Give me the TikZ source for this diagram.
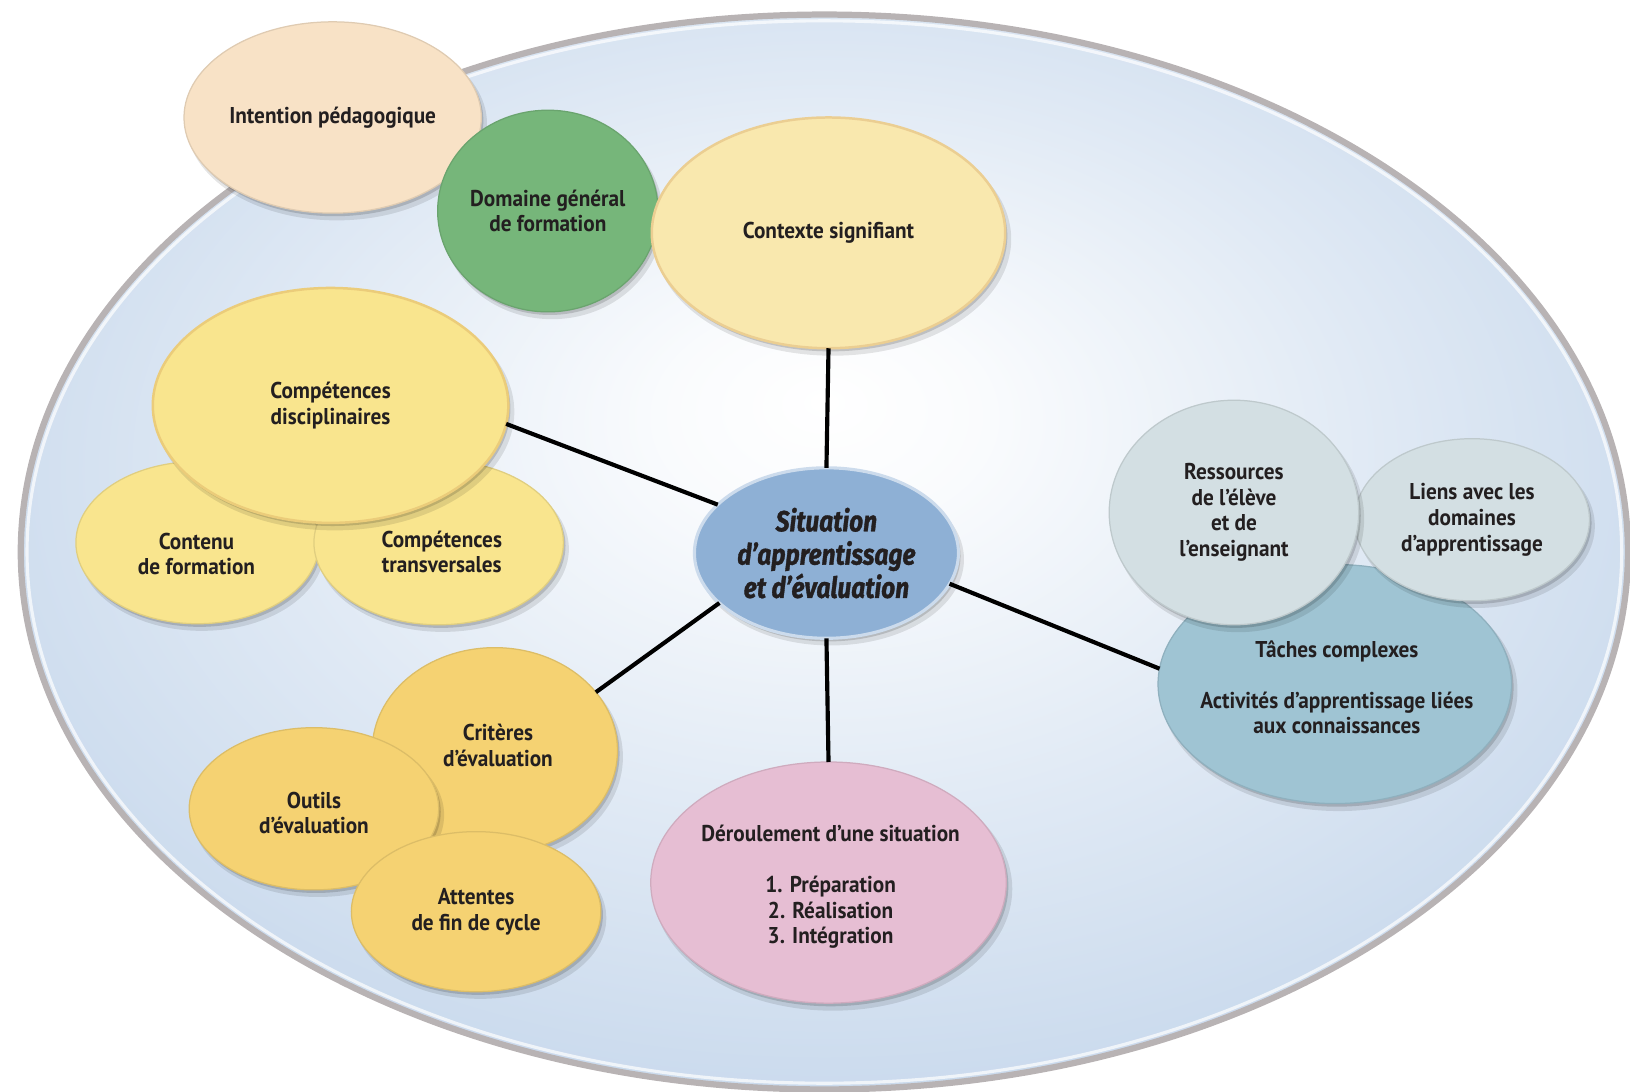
\documentclass[tikz,border=0pt]{standalone}
\usepackage{fontspec}
\setmainfont{PT Sans}
\newfontfamily\bubfont{PT Sans}[FakeStretch=0.93]
\newfontfamily\centfont{Fira Sans}[FakeStretch=0.84, FakeBold=1.2]
\usetikzlibrary{shapes.geometric,shadows}
\definecolor{bgblue}{HTML}{C7D8EC}
\definecolor{rimgrey}{HTML}{B8B3B4}
\definecolor{txt}{HTML}{231F20}
\definecolor{cpeach}{HTML}{F8E2C6}
\definecolor{cgreen}{HTML}{76B67A}
\definecolor{cctx}{HTML}{F9E8AE}
\definecolor{cyel}{HTML}{F9E58E}
\definecolor{corange}{HTML}{F5D272}
\definecolor{ccenter}{HTML}{8EB0D5}
\definecolor{cgrey}{HTML}{D3DFE3}
\definecolor{cteal}{HTML}{9FC4D3}
\definecolor{cpink}{HTML}{E6BED3}
\pgfdeclareradialshading{bgshade}{\pgfpoint{0bp}{7bp}}{color(0bp)=(white); color(5bp)=(white!90!bgblue); color(17bp)=(white!45!bgblue); color(30bp)=(bgblue); color(50bp)=(bgblue)}
\begin{document}
\begin{tikzpicture}[x=0.5pt,y=-0.5pt,
  bub/.style={ellipse, inner sep=0pt, outer sep=0pt, align=center, text=txt,
    font=\bubfont\bfseries\fontsize{11}{12.3}\selectfont,
    drop shadow={shadow xshift=2pt, shadow yshift=-3pt, shadow scale=1.01, opacity=0.1, fill=black},
    drop shadow={shadow xshift=1pt, shadow yshift=-1.5pt, opacity=0.15, fill=black}},
  lbl/.style={inner sep=0pt, align=center, text=txt, font=\bubfont\bfseries\fontsize{11}{12.3}\selectfont},
  sz/.style 2 args={minimum width=#1pt, minimum height=#2pt},
  fc/.style={fill=#1, draw=#1!90!black, line width=0.6pt},
  fr/.style={fill=#1, draw=#1!75!brown, line width=1.2pt},
  link/.style={line width=2pt, black}]
\useasboundingbox (0,0) rectangle (1568,1050);
% background ellipse
\path[shading=bgshade] (793,531) ellipse [x radius=775, y radius=519];
\draw[rimgrey, line width=3pt] (793,531) ellipse [x radius=773, y radius=517];
\draw[white, opacity=0.7, line width=1.5pt] (793,531) ellipse [x radius=767, y radius=511];
% bubbles
\node[bub, sz={143}{92}, fc=cpeach] (intent) at (320,113) {Intention pédagogique};
\node[bub, sz={106}{97}, fc=cgreen] (dom) at (527,203) {Domaine général\\de formation};
\node[bub, sz={170}{111}, fr=cctx] (ctx) at (797,224) {Contexte signifiant};
\node[bub, sz={117}{78}, fc=cyel] (contenu) at (190,522) {};
\node[lbl] (contenu-t) at (189,533) {Contenu\\de formation};
\node[bub, sz={120}{79}, fc=cyel] (transv) at (422,522) {};
\node[lbl] (transv-t) at (425,531) {Compétences\\transversales};
\node[bub, sz={171}{113}, fr=cyel] (disc) at (318,390) {Compétences\\disciplinaires};
\node[bub, sz={118}{99}, fc=corange] (crit) at (476,722) {};
\node[lbl] (crit-t) at (479,717) {Critères\\d’évaluation};
\node[bub, sz={120}{78}, fc=corange] (outils) at (302,778) {};
\node[lbl] (outils-t) at (302,782) {Outils\\d’évaluation};
\node[bub, sz={120}{77}, fc=corange] (att) at (458,877) {Attentes\\de fin de cycle};
\node[bub, sz={170}{115}, fc=cteal] (taches) at (1284,658) {};
\node[lbl] (taches-t) at (1286,661) {Tâches complexes\\[12.3pt]Activités d’apprentissage liées\\aux connaissances};
\node[bub, sz={113}{78}, fc=cgrey] (liens) at (1416,500) {Liens avec les\\domaines\\d’apprentissage};
\node[bub, sz={120}{108}, fc=cgrey] (res) at (1187,493) {Ressources\\de l’élève\\et de\\l’enseignant};
\node[bub, sz={171}{116}, fc=cpink] (der) at (797,849) {};
\node[lbl] (der-t) at (799,853) {Déroulement d’une situation\\[12.3pt]1. Préparation\\2. Réalisation\\3. Intégration};
\node[bub, sz={127}{82}, fill=ccenter, draw=white!55!ccenter, line width=1.5pt,
  font=\centfont\bfseries\itshape\fontsize{14}{16}\selectfont] (center) at (795,532)
  {Situation\\d’apprentissage\\et d’évaluation};
% connectors
\draw[link] (center.90) -- (ctx.-90);
\draw[link] (center.-90) -- (der.90);
\draw[link] (center.156) -- (disc.-6);
\draw[link] (center.205) -- (crit.30);
\draw[link] (center.-14) -- (taches.175);
\end{tikzpicture}
\end{document}
